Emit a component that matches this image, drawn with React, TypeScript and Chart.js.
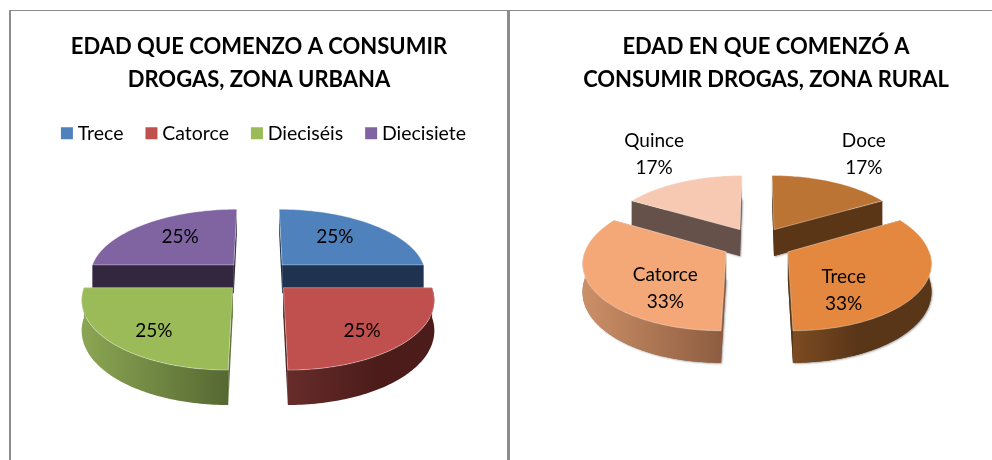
import React, { useEffect, useRef } from "react";
import { Chart, registerables } from "chart.js";

Chart.register(...registerables);

const FONT = "Lato, Carlito, Calibri, sans-serif";

// Urban chart
const urbanTitle = ["EDAD QUE COMENZO A CONSUMIR", "DROGAS, ZONA URBANA"];
const urbanLabels = ["Trece", "Catorce", "Dieciséis", "Diecisiete"];
const urbanValues = [1, 1, 1, 1];
const urbanColors = ["#4f81bd", "#c0504d", "#9bbb59", "#8064a2"];
const urbanCutColors = ["#1f3350", "#4d2020", "#5c6e35", "#33273f"];
const urbanWallLeft = ["#2a4565", "#672c2a", "#8ba653", "#33273f"];
const urbanWallRight = ["#1f3350", "#4c1c1b", "#566832", "#33273f"];
const urbanWallStops = [1, 0.6, 1, 1];
const urbanNudges = [[-4, -2], [-3, 6], [3, 6], [3, -2]];

// Rural chart
const ruralTitle = ["EDAD EN QUE COMENZÓ A", "CONSUMIR DROGAS, ZONA RURAL"];
const ruralLabels = ["Doce", "Trece", "Catorce", "Quince"];
const ruralValues = [1, 2, 2, 1];
const ruralColors = ["#bb7433", "#e3883e", "#f4a878", "#f7c9b2"];
const ruralCutColors = ["#5a3617", "#5a3617", "#8e5d41", "#65504a"];
const ruralWallLeft = ["#5a3617", "#7d4c22", "#cc9067", "#65504a"];
const ruralWallRight = ["#5a3617", "#5a3618", "#8e5d41", "#65504a"];
const ruralWallStops = [1, 0.45, 1, 1];
const ruralNudges = [[-3, 0], [-25, 16], [20, 14], [7, 0]];

const pie3d = {
  id: "pie3d",
  afterLayout(chart: any, _args: any, o: any) {
    if (chart.legend && o.legendShift) {
      chart.legend.left += o.legendShift;
      chart.legend.right += o.legendShift;
    }
  },
  beforeDatasetsDraw(chart: any, _args: any, o: any) {
    const ctx = chart.ctx as CanvasRenderingContext2D;
    const project = (u: number, v: number, z = 0) => {
      const f = 1 / (1 - o.k * v);
      return { x: o.cx + u * f, y: o.cy + o.tilt * v * f + z * f };
    };
    const meta = chart.getDatasetMeta(0);
    const ds = chart.data.datasets[0];
    const total = ds.data.reduce((a: number, b: number) => a + b, 0);
    const slices = meta.data.map((arc: any, i: number) => {
      const { startAngle, endAngle } = arc.getProps(["startAngle", "endAngle"]);
      const mid = (startAngle + endAngle) / 2;
      return {
        i,
        s: startAngle,
        e: endAngle,
        mid,
        ou: Math.cos(mid) * o.explode,
        ov: Math.sin(mid) * o.explode,
      };
    });
    const order = [...slices].sort((a, b) => Math.sin(a.mid) - Math.sin(b.mid));
    const arcPts = (sl: any, a0: number, a1: number, z = 0) => {
      const n = Math.max(2, Math.ceil(Math.abs(a1 - a0) / 0.02));
      const pts = [];
      for (let j = 0; j <= n; j++) {
        const t = a0 + ((a1 - a0) * j) / n;
        pts.push(project(sl.ou + Math.cos(t) * o.radius, sl.ov + Math.sin(t) * o.radius, z));
      }
      return pts;
    };
    const poly = (pts: { x: number; y: number }[]) => {
      ctx.beginPath();
      pts.forEach((p, j) => (j ? ctx.lineTo(p.x, p.y) : ctx.moveTo(p.x, p.y)));
      ctx.closePath();
    };
    ctx.save();
    for (const sl of order) {
      const apex = project(sl.ou, sl.ov);
      const apexB = project(sl.ou, sl.ov, o.depth);
      const face = (a: number) => {
        const p = arcPts(sl, a, a)[0];
        const q = arcPts(sl, a, a, o.depth)[0];
        poly([apex, p, q, apexB]);
        ctx.fillStyle = o.cutColors[sl.i];
        ctx.fill();
      };
      if (o.shadow) {
        ctx.save();
        ctx.shadowColor = "rgba(90,90,90,0.55)";
        ctx.shadowBlur = 2;
        ctx.shadowOffsetX = 1;
        ctx.shadowOffsetY = 1;
        poly([apexB, ...arcPts(sl, sl.s, sl.e, o.depth)]);
        ctx.fillStyle = o.cutColors[sl.i];
        ctx.fill();
        ctx.restore();
      }
      face(sl.s);
      face(sl.e);
      // front-facing part of the rim
      const lo = Math.max(sl.s, 0), hi = Math.min(sl.e, Math.PI);
      if (hi > lo) {
        const top = arcPts(sl, lo, hi);
        const bot = arcPts(sl, lo, hi, o.depth).reverse();
        const xs = top.map((p) => p.x);
        const minX = Math.min(...xs), maxX = Math.max(...xs);
        const g = ctx.createLinearGradient(minX, 0, maxX, 0);
        const left = o.wallLeft[sl.i], right = o.wallRight[sl.i];
        const stop = o.wallStops[sl.i];
        g.addColorStop(0, left);
        g.addColorStop(stop, right);
        if (stop < 1) g.addColorStop(1, right);
        poly([...top, ...bot]);
        ctx.fillStyle = g;
        ctx.fill();
      }
      // top surface
      poly([apex, ...arcPts(sl, sl.s, sl.e)]);
      ctx.fillStyle = ds.backgroundColor[sl.i];
      ctx.fill();
      ctx.strokeStyle = "rgba(255,255,255,0.45)";
      ctx.lineWidth = 0.8;
      ctx.stroke();
    }
    // labels
    ctx.fillStyle = "#000";
    ctx.font = `${o.labelSize}px ${FONT}`;
    ctx.textAlign = "center";
    ctx.textBaseline = "middle";
    for (const sl of slices) {
      const value = ds.data[sl.i];
      const share = value / total;
      const outside = share < 0.2;
      const r = o.radius * (outside ? o.labelOutside : o.labelInside + o.labelFront * Math.sin(sl.mid));
      const p = project(sl.ou + Math.cos(sl.mid) * r, sl.ov + Math.sin(sl.mid) * r);
      const x = p.x + o.nudges[sl.i][0];
      const y = p.y + o.nudges[sl.i][1];
      const pct = `${Math.round(share * 100)}%`;
      if (o.showNames) {
        ctx.fillText(chart.data.labels[sl.i], x, y - 13);
        ctx.fillText(pct, x, y + 14);
      } else {
        ctx.fillText(pct, x, y);
      }
    }
    ctx.restore();
    return false;
  },
};

function makeConfig(
  title: string[],
  labels: string[],
  values: number[],
  colors: string[],
  showLegend: boolean,
  model: any
) {
  return {
    type: "pie" as const,
    data: {
      labels,
      datasets: [{ data: values, backgroundColor: colors, borderWidth: 0 }],
    },
    options: {
      responsive: false,
      animation: false as const,
      plugins: {
        title: {
          display: true,
          text: title,
          color: "#000",
          font: { family: FONT, size: 22, weight: "bold" as const, lineHeight: 1.5 },
          padding: { top: 18.5, bottom: 0 },
        },
        legend: {
          display: showLegend,
          position: "top" as const,
          labels: {
            color: "#000",
            font: { family: FONT, size: 19.5 },
            usePointStyle: true,
            pointStyle: "rect",
            boxWidth: 2,
            boxHeight: 12,
            padding: 27,
          },
        },
        tooltip: { enabled: false },
        pie3d: model,
      },
    },
    plugins: [pie3d],
  };
}

const urbanModel = {
  cx: 246, cy: 264, tilt: 0.46, k: 0.001, radius: 145, explode: 35, depth: 29, legendShift: 7,
  labelSize: 19, labelInside: 0.66, labelFront: 0.06, labelOutside: 1.7, showNames: false, shadow: false,
  cutColors: urbanCutColors, wallLeft: urbanWallLeft, wallRight: urbanWallRight, wallStops: urbanWallStops, nudges: urbanNudges,
};
const ruralModel = {
  cx: 217, cy: 231.5, tilt: 0.47, k: 0.001, radius: 139, explode: 35, depth: 27, legendShift: 0,
  labelSize: 19, labelInside: 0.62, labelFront: 0, labelOutside: 1.7, showNames: true, shadow: true,
  cutColors: ruralCutColors, wallLeft: ruralWallLeft, wallRight: ruralWallRight, wallStops: ruralWallStops, nudges: ruralNudges,
};

function PieCanvas({ config, style, width, height }: any) {
  const ref = useRef<HTMLCanvasElement>(null);
  useEffect(() => {
    const chart = new Chart(ref.current as HTMLCanvasElement, config);
    return () => chart.destroy();
  }, [config]);
  return <canvas ref={ref} width={width} height={height} style={{ position: "fixed", ...style }} />;
}

const urbanConfig = makeConfig(urbanTitle, urbanLabels, urbanValues, urbanColors, true, urbanModel);
const ruralConfig = makeConfig(ruralTitle, ruralLabels, ruralValues, ruralColors, false, ruralModel);

const line = "#8c8c8c";

export default function App() {
  return (
    <div style={{ position: "fixed", inset: 0, background: "#fff", overflow: "hidden" }}>
      <div style={{ position: "fixed", left: 9, top: 10, width: 983, height: 1, background: line }} />
      <div style={{ position: "fixed", left: 9, top: 10, width: 2, height: 450, background: line }} />
      <div style={{ position: "fixed", left: 507, top: 10, width: 3, height: 450, background: line }} />
      <PieCanvas config={urbanConfig} width={494} height={448} style={{ left: 12, top: 12 }} />
      <PieCanvas config={ruralConfig} width={452} height={448} style={{ left: 540, top: 12 }} />
    </div>
  );
}
